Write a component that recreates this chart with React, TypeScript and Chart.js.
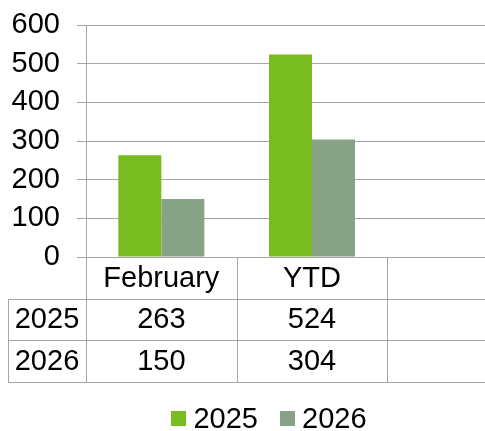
import React, { useEffect, useRef } from 'react';
import { Chart, registerables } from 'chart.js';

Chart.register(...registerables);

const categories = ['February', 'YTD', ''];
const seriesNames = ['2025', '2026'];
const values2025 = [263, 524];
const values2026 = [150, 304];
const yTicks = [0, 100, 200, 300, 400, 500, 600];
const seriesColors = ['#78BC20', '#88A287'];

const FONT = '"Liberation Sans", Arial, sans-serif';
const FS = 29;
const GRID = '#a6a6a6';
const CW = 538;
const CH = 431;

export default function App() {
  const ref = useRef<HTMLCanvasElement>(null);

  useEffect(() => {
    if (!ref.current) return;
    const series = [values2025, values2026];

    const tablePlugin = {
      id: 'dataTable',
      afterDraw(chart: any) {
        const ctx = chart.ctx as CanvasRenderingContext2D;
        const area = chart.chartArea;
        const n = categories.length;
        const cw = (area.right - area.left) / n;
        const rowH = 41.5;
        const top = area.bottom;
        const tableLeft = 8;
        const rows = series.length + 1;
        const bottom = Math.round(top + rows * rowH) + 0.5;
        const line = (x1: number, y1: number, x2: number, y2: number) => {
          ctx.beginPath();
          ctx.moveTo(x1, y1);
          ctx.lineTo(x2, y2);
          ctx.stroke();
        };
        ctx.save();
        ctx.strokeStyle = GRID;
        ctx.lineWidth = 1;
        for (let r = 1; r <= rows; r++) {
          const y = Math.round(top + r * rowH) + 0.5;
          line(tableLeft, y, chart.width, y);
        }
        for (let i = 0; i <= n; i++) {
          const x = Math.round(area.left + i * cw) + 0.5;
          line(x, top, x, bottom);
        }
        line(tableLeft + 0.5, Math.round(top + rowH) + 0.5, tableLeft + 0.5, bottom);

        ctx.fillStyle = '#000';
        ctx.font = `${FS}px ${FONT}`;
        ctx.textAlign = 'center';
        ctx.textBaseline = 'middle';
        categories.forEach((c, i) => {
          ctx.fillText(c, area.left + (i + 0.5) * cw, top + rowH / 2 + 1);
        });
        series.forEach((vals, r) => {
          const cy = top + (r + 1.5) * rowH + 1;
          ctx.fillText(seriesNames[r], (tableLeft + area.left) / 2, cy);
          vals.forEach((v, i) => {
            ctx.fillText(String(v), area.left + (i + 0.5) * cw, cy);
          });
        });

        // legend
        const sq = 15;
        const gapText = 7;
        const gapItem = 22;
        const widths = seriesNames.map((s) => ctx.measureText(s).width);
        const total = widths.reduce((a, w) => a + sq + gapText + w, 0) + gapItem * (seriesNames.length - 1);
        let x = chart.width / 2 - total / 2;
        const ly = 418.5;
        ctx.textAlign = 'left';
        seriesNames.forEach((s, i) => {
          ctx.fillStyle = seriesColors[i];
          ctx.fillRect(Math.round(x), Math.round(ly - sq / 2), sq, sq);
          ctx.fillStyle = '#000';
          ctx.fillText(s, x + sq + gapText, ly + 1);
          x += sq + gapText + widths[i] + gapItem;
        });
        ctx.restore();
      },
    };

    const chart = new Chart(ref.current, {
      type: 'bar',
      data: {
        labels: categories,
        datasets: seriesNames.map((name, i) => ({
          label: name,
          data: series[i],
          backgroundColor: seriesColors[i],
          borderWidth: 0,
          categoryPercentage: 0.571,
          barPercentage: 1.0,
        })),
      },
      options: {
        responsive: false,
        animation: false,
        devicePixelRatio: 1,
        layout: { padding: { top: 25, bottom: 174, left: 0, right: 0 } },
        plugins: { legend: { display: false }, tooltip: { enabled: false } },
        scales: {
          x: { display: false },
          y: {
            min: 0,
            max: 600,
            afterBuildTicks: (s: any) => {
              s.ticks = yTicks.map((v) => ({ value: v }));
            },
            afterFit: (s: any) => {
              s.width = 86;
              s.paddingTop = 0;
              s.paddingBottom = 0;
            },
            grid: { color: GRID, tickLength: 9, lineWidth: 1 },
            border: { color: GRID },
            ticks: {
              color: '#000',
              padding: 17,
              font: { family: FONT, size: FS },
            },
          },
        },
      },
      plugins: [tablePlugin],
    });
    return () => chart.destroy();
  }, []);

  return (
    <div style={{ position: 'fixed', left: 0, top: 0, width: 485, height: 431, overflow: 'hidden', background: '#fff' }}>
      <canvas ref={ref} width={CW} height={CH} style={{ display: 'block' }} />
    </div>
  );
}
